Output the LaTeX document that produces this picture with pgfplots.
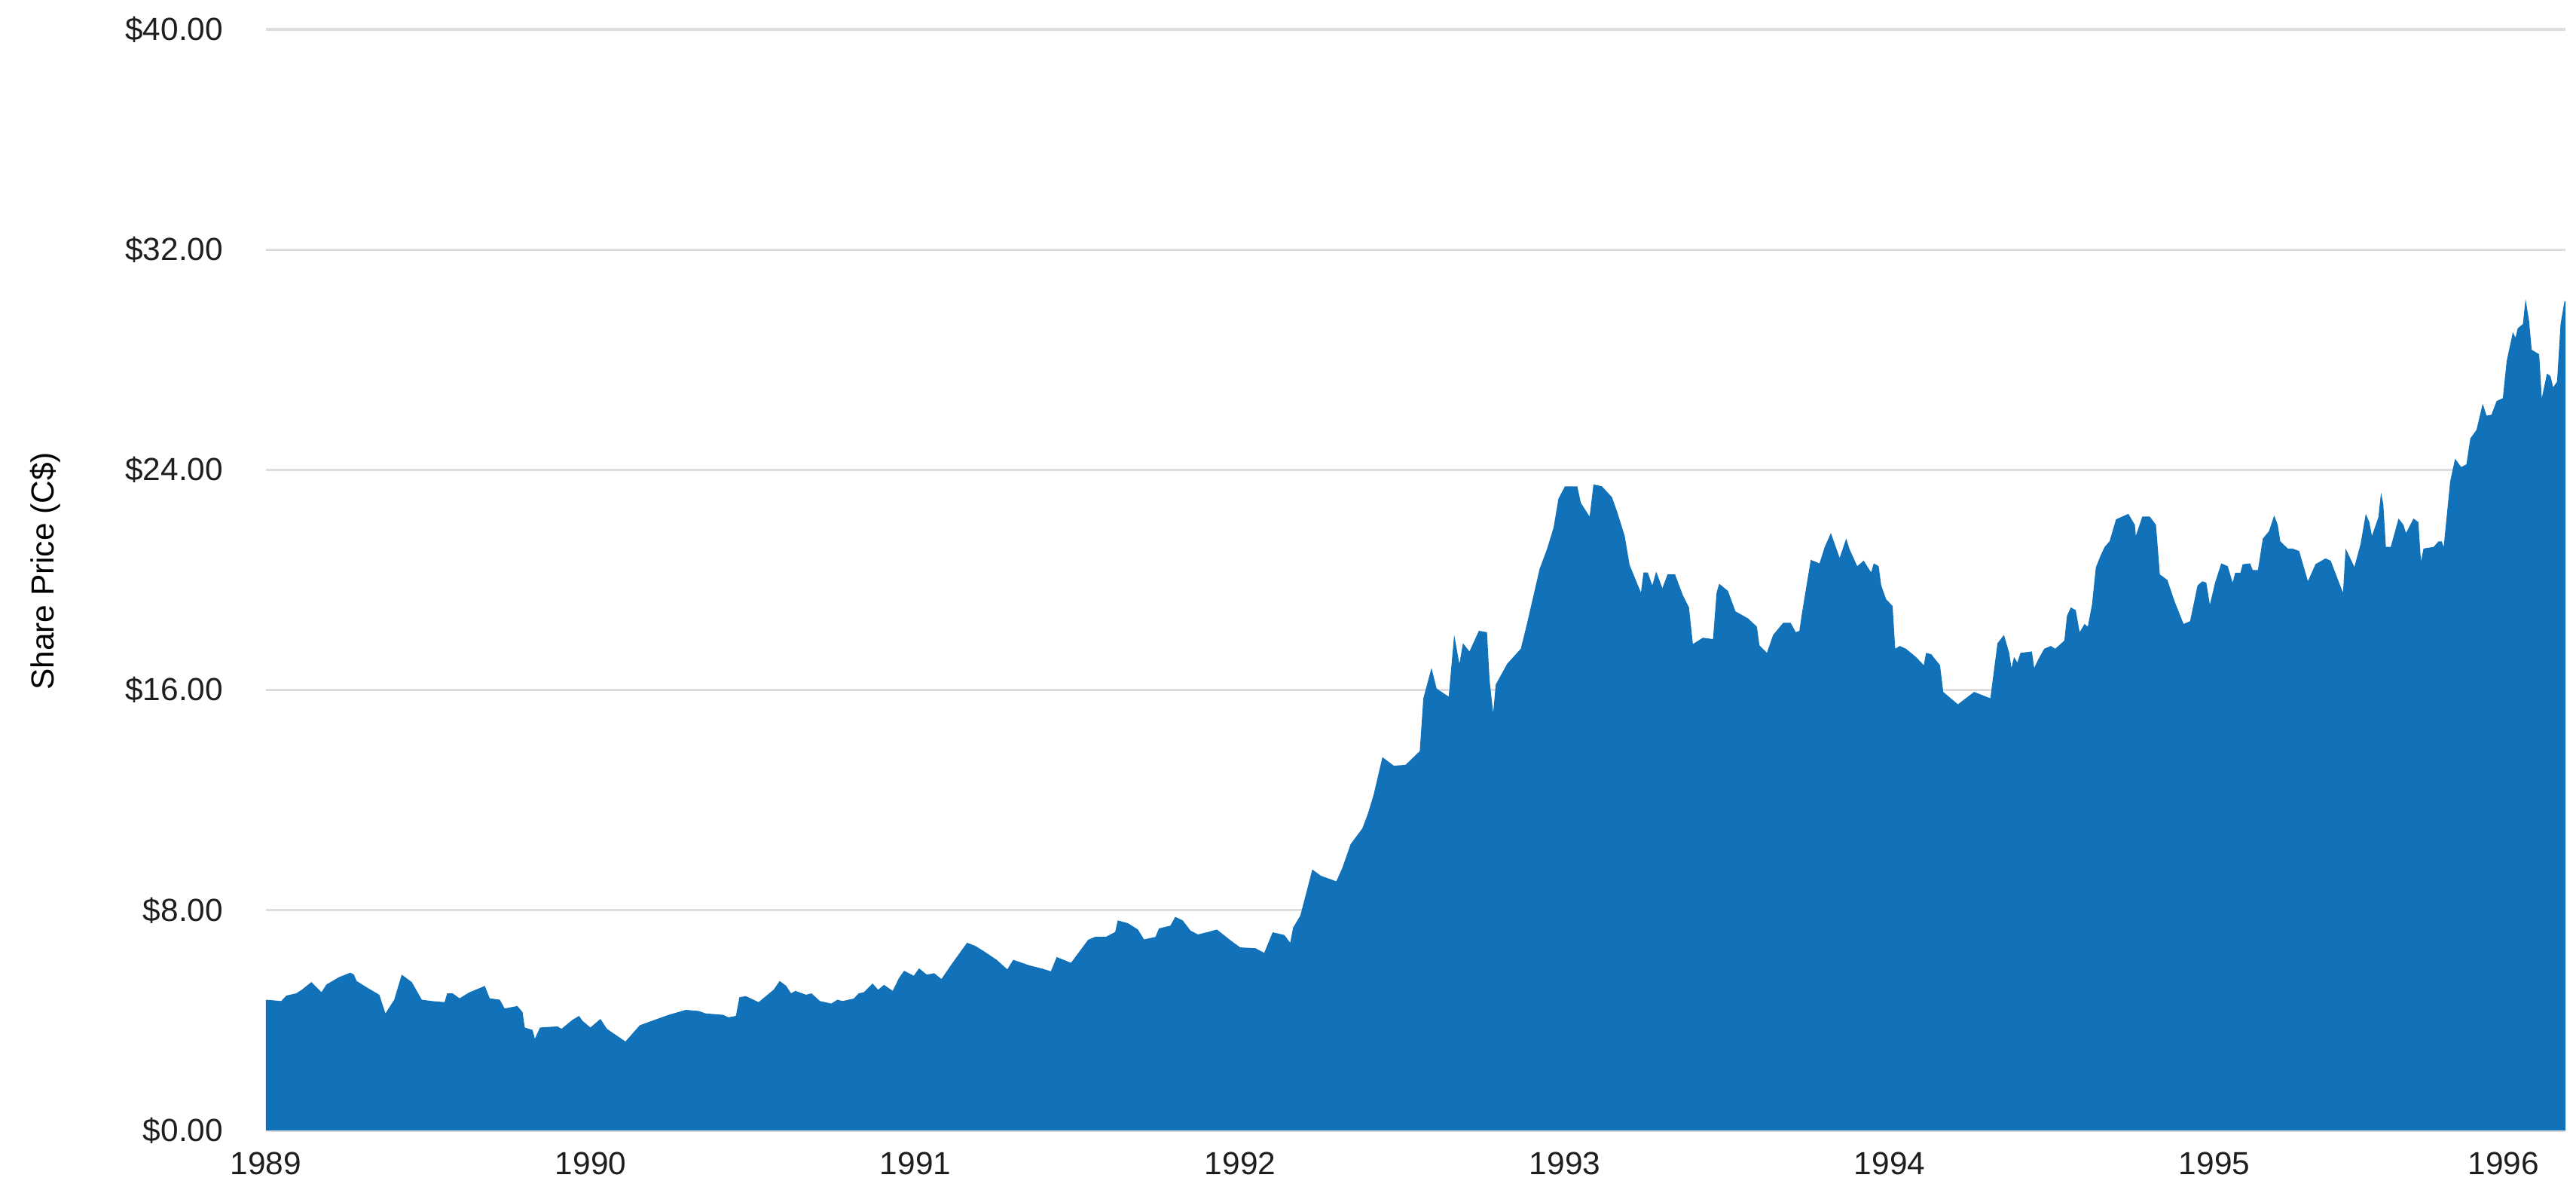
\documentclass[border=0pt]{standalone}
\usepackage{fontspec}
\setmainfont{Liberation Sans}
\usepackage{pgfplots}
\pgfplotsset{compat=1.18}
\usepackage{pgfplotstable}
\definecolor{areablue}{RGB}{17,114,185}
\definecolor{gridgray}{RGB}{221,221,221}
\definecolor{txt}{RGB}{30,30,30}
\pgfplotstableread{
yr price
1989.000 4.75
1989.047 4.70
1989.063 4.90
1989.093 4.98
1989.109 5.10
1989.140 5.39
1989.171 5.02
1989.186 5.30
1989.225 5.57
1989.260 5.73
1989.271 5.66
1989.279 5.43
1989.310 5.20
1989.349 4.93
1989.368 4.25
1989.395 4.75
1989.418 5.66
1989.449 5.39
1989.480 4.75
1989.511 4.70
1989.550 4.66
1989.558 4.98
1989.575 4.98
1989.596 4.80
1989.627 5.02
1989.674 5.25
1989.689 4.80
1989.720 4.75
1989.735 4.43
1989.774 4.52
1989.790 4.30
1989.797 3.74
1989.821 3.65
1989.828 3.33
1989.844 3.74
1989.898 3.78
1989.910 3.69
1989.944 4.02
1989.964 4.16
1989.975 3.98
1989.999 3.74
1990.030 4.05
1990.050 3.69
1990.107 3.23
1990.151 3.82
1990.214 4.09
1990.240 4.20
1990.293 4.38
1990.332 4.34
1990.354 4.25
1990.408 4.20
1990.424 4.11
1990.447 4.16
1990.458 4.84
1990.478 4.88
1990.517 4.66
1990.563 5.11
1990.582 5.43
1990.602 5.25
1990.617 4.98
1990.630 5.07
1990.663 4.93
1990.680 4.98
1990.706 4.70
1990.741 4.61
1990.760 4.75
1990.775 4.70
1990.810 4.79
1990.825 4.98
1990.841 5.02
1990.868 5.34
1990.885 5.11
1990.903 5.29
1990.930 5.07
1990.949 5.53
1990.965 5.80
1990.980 5.71
1990.995 5.62
1991.011 5.89
1991.035 5.66
1991.058 5.71
1991.080 5.50
1991.115 6.10
1991.159 6.82
1991.185 6.70
1991.212 6.50
1991.250 6.20
1991.283 5.85
1991.301 6.20
1991.350 6.00
1991.390 5.88
1991.417 5.78
1991.435 6.30
1991.479 6.09
1991.532 6.93
1991.553 7.03
1991.586 7.03
1991.615 7.21
1991.623 7.63
1991.654 7.53
1991.685 7.30
1991.704 6.94
1991.739 7.03
1991.750 7.34
1991.785 7.44
1991.800 7.76
1991.823 7.63
1991.847 7.26
1991.870 7.12
1991.901 7.21
1991.928 7.30
1991.971 6.90
1992.000 6.65
1992.047 6.62
1992.074 6.45
1992.100 7.20
1992.136 7.10
1992.154 6.82
1992.163 7.37
1992.185 7.80
1992.207 8.79
1992.222 9.48
1992.249 9.25
1992.296 9.05
1992.314 9.52
1992.340 10.40
1992.376 10.97
1992.393 11.50
1992.411 12.20
1992.438 13.56
1992.473 13.25
1992.509 13.28
1992.553 13.78
1992.564 15.70
1992.589 16.80
1992.605 16.05
1992.642 15.76
1992.659 18.00
1992.675 16.95
1992.686 17.70
1992.706 17.40
1992.735 18.15
1992.760 18.10
1992.768 16.35
1992.779 15.16
1992.787 16.20
1992.822 16.95
1992.864 17.50
1992.883 18.40
1992.922 20.40
1992.945 21.13
1992.965 21.90
1992.980 22.95
1993.000 23.40
1993.038 23.40
1993.049 22.80
1993.076 22.30
1993.088 23.47
1993.114 23.40
1993.145 23.00
1993.160 22.50
1993.184 21.60
1993.199 20.55
1993.234 19.54
1993.242 20.27
1993.255 20.27
1993.269 19.80
1993.281 20.30
1993.300 19.70
1993.316 20.20
1993.339 20.20
1993.363 19.45
1993.382 19.00
1993.394 17.67
1993.425 17.90
1993.456 17.85
1993.467 19.54
1993.475 19.86
1993.502 19.60
1993.525 18.86
1993.564 18.60
1993.591 18.30
1993.599 17.62
1993.622 17.35
1993.641 18.00
1993.672 18.44
1993.695 18.44
1993.711 18.10
1993.722 18.15
1993.730 18.80
1993.757 20.73
1993.784 20.60
1993.800 21.20
1993.819 21.70
1993.846 20.80
1993.866 21.50
1993.877 21.10
1993.900 20.50
1993.920 20.70
1993.943 20.27
1993.951 20.60
1993.966 20.50
1993.974 19.80
1993.989 19.30
1994.009 19.05
1994.017 17.50
1994.031 17.60
1994.050 17.50
1994.081 17.20
1994.105 16.90
1994.112 17.35
1994.128 17.30
1994.155 16.90
1994.165 15.93
1994.210 15.48
1994.260 15.93
1994.310 15.70
1994.332 17.70
1994.352 18.00
1994.368 17.35
1994.375 16.80
1994.383 17.20
1994.393 17.00
1994.403 17.35
1994.438 17.40
1994.445 16.80
1994.457 17.10
1994.476 17.50
1994.496 17.60
1994.510 17.50
1994.538 17.80
1994.546 18.70
1994.558 19.00
1994.573 18.90
1994.585 18.10
1994.600 18.40
1994.610 18.30
1994.623 19.10
1994.635 20.46
1994.650 20.90
1994.662 21.20
1994.677 21.40
1994.697 22.20
1994.735 22.40
1994.755 22.00
1994.758 21.60
1994.778 22.30
1994.801 22.30
1994.820 22.00
1994.832 20.20
1994.855 20.00
1994.878 19.20
1994.905 18.40
1994.925 18.50
1994.948 19.80
1994.963 19.95
1994.975 19.90
1994.986 19.10
1995.002 19.90
1995.021 20.60
1995.041 20.50
1995.056 19.90
1995.064 20.26
1995.080 20.26
1995.087 20.57
1995.110 20.60
1995.118 20.36
1995.134 20.36
1995.149 21.50
1995.168 21.77
1995.184 22.34
1995.195 22.00
1995.203 21.40
1995.226 21.14
1995.240 21.14
1995.261 21.05
1995.288 19.95
1995.311 20.57
1995.342 20.78
1995.358 20.70
1995.396 19.53
1995.404 21.14
1995.423 20.67
1995.431 20.47
1995.450 21.30
1995.466 22.40
1995.477 22.10
1995.485 21.60
1995.505 22.28
1995.513 23.17
1995.520 22.75
1995.528 21.20
1995.543 21.20
1995.567 22.23
1995.582 22.00
1995.590 21.70
1995.613 22.23
1995.628 22.10
1995.636 20.67
1995.644 21.14
1995.675 21.20
1995.690 21.40
1995.700 21.40
1995.706 21.20
1995.726 23.58
1995.741 24.40
1995.760 24.10
1995.776 24.20
1995.788 25.14
1995.807 25.45
1995.826 26.40
1995.838 25.97
1995.853 26.00
1995.869 26.50
1995.888 26.60
1995.900 27.95
1995.919 29.00
1995.927 28.80
1995.934 29.14
1995.950 29.30
1995.958 30.20
1995.965 29.70
1995.969 29.40
1995.977 28.36
1996.000 28.20
1996.008 26.60
1996.024 27.50
1996.035 27.40
1996.043 27.00
1996.055 27.20
1996.066 29.30
1996.078 30.13
1996.081 30.13
}\pricedata
\begin{document}
\fontsize{10.6bp}{12.7bp}\selectfont
\begin{tikzpicture}
\path[use as bounding box] (-88.25bp,-20.75bp) rectangle (766.5bp,375bp);
\begin{axis}[
  at={(0,0)}, anchor=south west,
  scale only axis,
  width=763bp, height=365.25bp,
  xmin=1989, xmax=1996.081,
  ymin=0, ymax=40,
  xtick={1989,1990,1991,1992,1993,1994,1995,1996},
  xticklabels={1989,1990,1991,1992,1993,1994,1995,\makebox[0pt][r]{1996}},
  ytick={0,8,16,24,32,40},
  yticklabels={\$0.00,\$8.00,\$16.00,\$24.00,\$32.00,\$40.00},
  /pgf/number format/assume math mode=true,
  ymajorgrids,
  grid style={draw=gridgray, line width=0.8bp},
  axis line style={draw=none},
  tick style={draw=none},
  ticklabel style={font=\fontsize{10.6bp}{12.7bp}\selectfont, text=txt},
  yticklabel style={xshift=-10.5bp},
  xticklabel style={yshift=-3.5bp},
  ylabel={Share Price (C\$)},
  ylabel style={font=\fontsize{10.6bp}{12.7bp}\selectfont, text=txt},
  every axis y label/.style={at={(axis description cs:-0.0960,0.508)}, rotate=90, anchor=center},
  clip=false,
]
\addplot[fill=areablue, draw=none] table[x=yr, y=price] {\pricedata} \closedcycle;
\end{axis}
\end{tikzpicture}
\end{document}
